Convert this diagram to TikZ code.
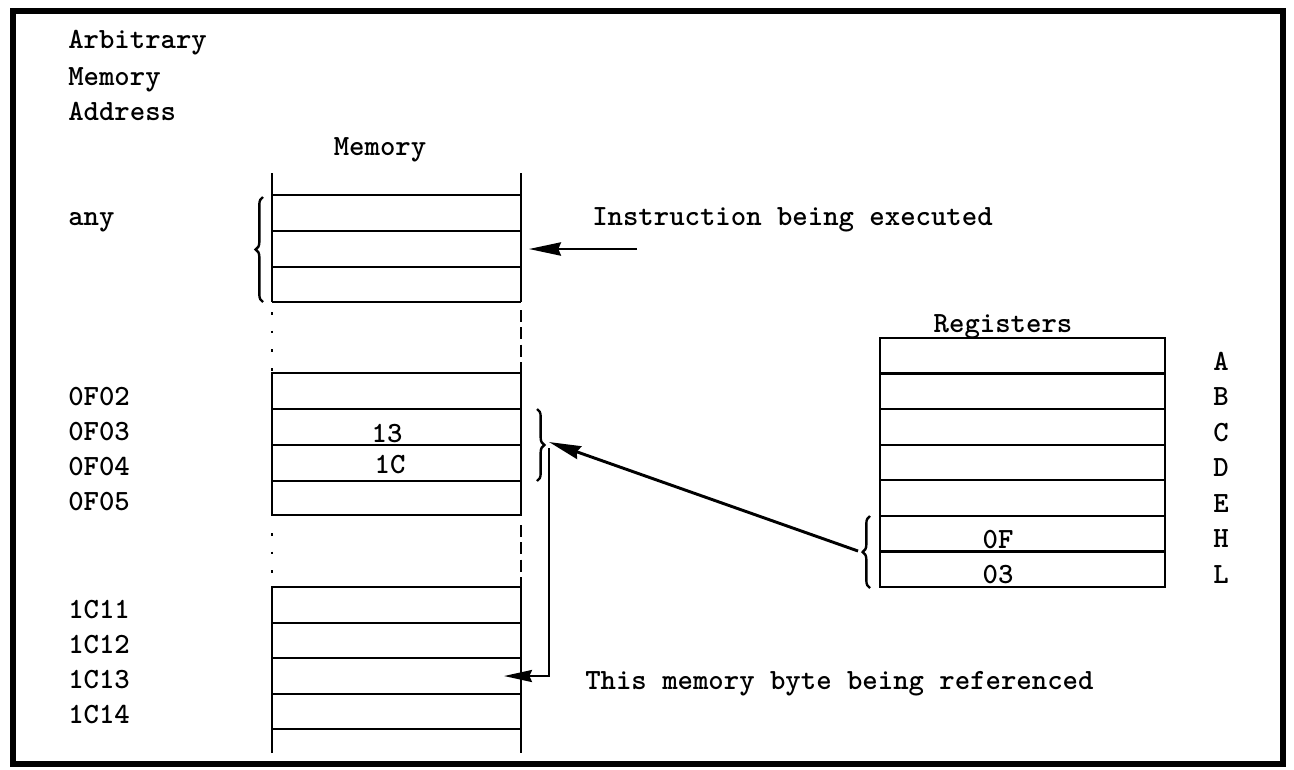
\documentclass[tikz,border=0pt]{standalone}
\usepackage{fontspec}
\usetikzlibrary{arrows.meta,decorations.pathreplacing}

\begin{document}
\begin{tikzpicture}[x=0.75pt,y=-0.75pt,
  txt/.style={font=\ttfamily\bfseries\fontsize{22pt}{24pt}\selectfont, inner sep=0pt},
  cellline/.style={line width=1.7pt},
  frameline/.style={line width=4.5pt},
  bracestyle/.style={line width=1.8pt, decorate, decoration={brace, amplitude=5.5pt}},
  dotgap/.style={line width=1.8pt, dash pattern=on 2pt off 12pt},
  dashgap/.style={line width=1.8pt, dash pattern=on 9pt off 4pt},
  headtip/.style={-{Stealth[length=24pt,width=10pt,inset=2pt]}}
]
\useasboundingbox (0,0) rectangle (1294,769);

% outer frame
\draw[frameline] (13,11) rectangle (1283,764);

% column heading and titles
\node[txt, anchor=base west] (tArb) at (68,48) {Arbitrary};
\node[txt, anchor=base west] (tMem) at (68,85) {Memory};
\node[txt, anchor=base west] (tAdr) at (68,120) {Address};
\node[txt, anchor=base] (memTitle) at (380,155) {Memory};

% memory block 1 (open at the top)
\draw[cellline] (272,173) -- (272,302) (521,173) -- (521,302);
\foreach \y in {195,231,267,302} \draw[cellline] (272,\y) -- (521,\y);

% gap 1
\draw[dotgap] (272,312) -- (272,372);
\draw[dashgap] (521,310) -- (521,372);

% memory block 2
\draw[cellline] (272,373) rectangle (521,515);
\foreach \y in {409,445,481} \draw[cellline] (272,\y) -- (521,\y);
\node[txt, anchor=base] (v13) at (387,442) {13};
\node[txt, anchor=base] (v1C) at (390,473) {1C};

% gap 2
\draw[dotgap] (272,533) -- (272,586);
\draw[dashgap] (521,525) -- (521,586);

% memory block 3 (open at the bottom)
\draw[cellline] (272,753) -- (272,587) -- (521,587) -- (521,753);
\foreach \y in {623,658,694,729} \draw[cellline] (272,\y) -- (521,\y);

% addresses
\node[txt, anchor=base west] (aAny) at (68,225) {any};
\foreach \a/\y in {0F02/405,0F03/440,0F04/475,0F05/510,1C11/618,1C12/653,1C13/688,1C14/723}
  \node[txt, anchor=base west] (a\a) at (68,\y) {\a};

% registers
\node[txt, anchor=base] (regTitle) at (1003,332) {Registers};
\draw[cellline] (880,338) rectangle (1165,587);
\foreach \i in {1,...,6} \draw[cellline] (880,{338+\i*35.57}) -- (1165,{338+\i*35.57});
\foreach \l [count=\i from 0] in {A,B,C,D,E,H,L}
  \node[txt, anchor=base] (reg\l) at (1221,{370+\i*35.57}) {\l};
\node[txt, anchor=base] (vH) at (998,548) {0F};
\node[txt, anchor=base] (vL) at (998,583) {03};

% braces
\draw[bracestyle] (263,302) -- (263,197);
\draw[bracestyle] (537,409) -- (537,481);
\draw[bracestyle] (870,588) -- (870,516);

% connector end points
\coordinate (instrTail) at (637,249);
\coordinate (instrHead) at (529,249);
\coordinate (hlTip) at (858,551);
\coordinate (memTip) at (549,442);
\coordinate (dropTop) at (549,448);
\coordinate (refCell) at (504,676);

% arrows
\draw[line width=1.5pt, headtip] (instrTail) -- (instrHead);
\draw[line width=2.2pt, headtip] (hlTip) -- (memTip);
\draw[line width=1.8pt, -{Stealth[length=21pt,width=9pt,inset=2pt]}] (dropTop) |- (refCell);

% captions
\node[txt, anchor=base west] (capInstr) at (592,225) {Instruction being executed};
\node[txt, anchor=base west] (capRef) at (585,689) {This memory byte being referenced};
\end{tikzpicture}
\end{document}
